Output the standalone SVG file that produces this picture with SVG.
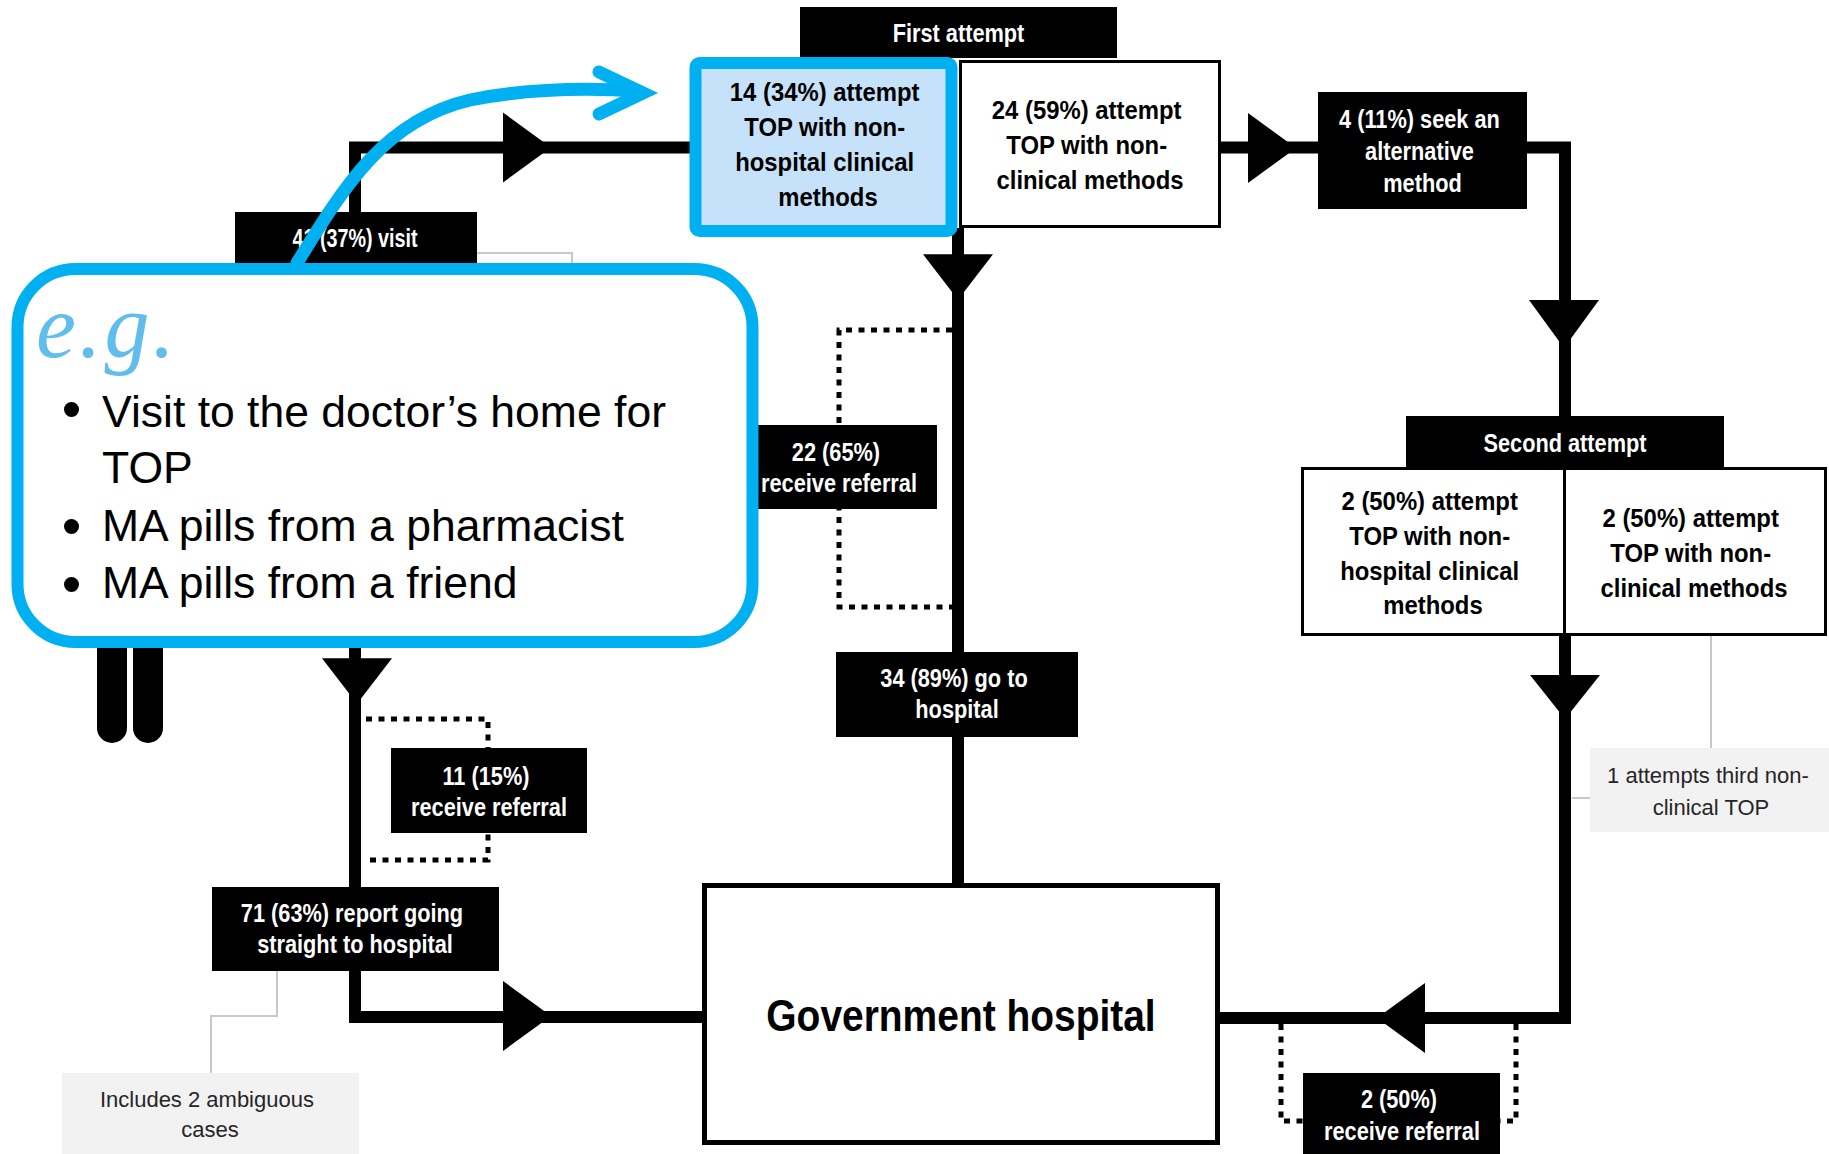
<svg xmlns="http://www.w3.org/2000/svg" xmlns:xlink="http://www.w3.org/1999/xlink" width="1829" height="1154" viewBox="0 0 1829 1154">
  <style>
    .flow { fill: none; stroke: #000; stroke-width: 12; stroke-linejoin: miter; stroke-linecap: butt; }
    .dots { fill: none; stroke: #000; stroke-width: 5; stroke-dasharray: 6 6.5; }
    .thin { fill: none; stroke: #c8c8c8; stroke-width: 2; }
    .head { fill: #000; }
    .blk { fill: #000; }
    .box { fill: #fff; stroke: #000; stroke-width: 3; }
    .note { fill: #f2f2f2; }
    .lbl { font-family: "Liberation Sans", Arial, sans-serif; font-weight: bold; font-size: 25px; fill: #fff; text-anchor: middle; }
    .txt { font-family: "Liberation Sans", Arial, sans-serif; font-weight: bold; font-size: 25px; fill: #000; text-anchor: middle; }
    .ntxt { font-family: "Liberation Sans", Arial, sans-serif; font-size: 22px; fill: #262626; text-anchor: middle; }
    .big { font-family: "Liberation Sans", Arial, sans-serif; font-weight: bold; font-size: 44px; fill: #000; text-anchor: middle; }
    .bul { font-family: "Liberation Sans", Arial, sans-serif; font-size: 44.5px; fill: #000; }
  </style>
  <defs>
    <!-- flow arrowhead, pointing right, centred on its mid point -->
    <path id="tri" d="M-24,-35 L24,0 L-24,35 Z"/>
  </defs>

  <rect width="1829" height="1154" fill="#fff"/>

  <!-- connectors -->
  <g id="connectors">
    <polyline class="flow" points="355,215 355,147.5 692,147.5"/>
    <line class="flow" x1="958" y1="228" x2="958" y2="886"/>
    <line class="flow" x1="1221" y1="147.5" x2="1320" y2="147.5"/>
    <polyline class="flow" points="1525,147.5 1565,147.5 1565,418"/>
    <polyline class="flow" points="1565,633 1565,1018 1218,1018"/>
    <polyline class="flow" points="355,640 355,1017 704,1017"/>

    <use href="#tri" class="head" transform="translate(527 147.5)"/>
    <use href="#tri" class="head" transform="translate(958 277) rotate(90) scale(0.95 1)"/>
    <use href="#tri" class="head" transform="translate(1272 148)"/>
    <use href="#tri" class="head" transform="translate(1564 324) rotate(90)"/>
    <use href="#tri" class="head" transform="translate(1565 697) rotate(90) scale(0.92 1)"/>
    <use href="#tri" class="head" transform="translate(1401 1018) rotate(180)"/>
    <use href="#tri" class="head" transform="translate(357 681) rotate(90) scale(0.95 1)"/>
    <use href="#tri" class="head" transform="translate(527 1016)"/>

    <!-- referral brackets -->
    <polyline class="dots" points="952,330 839,330 839,607 952,607"/>
    <polyline class="dots" points="366,719 488,719 488,860 366,860"/>
    <polyline class="dots" points="1281,1024 1281,1121 1303,1121"/>
    <polyline class="dots" points="1516,1024 1516,1121 1500,1121"/>

    <!-- note leaders -->
    <polyline class="thin" points="477,253 572,253 572,280"/>
    <line class="thin" x1="1711" y1="636" x2="1711" y2="748"/>
    <line class="thin" x1="1572" y1="798" x2="1590" y2="798"/>
    <polyline class="thin" points="277,971 277,1016 211,1016 211,1073"/>
  </g>

  <!-- stage headers -->
  <g id="first-attempt">
    <rect class="blk" x="800" y="7" width="317" height="51"/>
    <text class="lbl" transform="translate(958.5 0) scale(0.87 1)"><tspan x="0" y="42">First attempt</tspan></text>
  </g>
  <g id="second-attempt">
    <rect class="blk" x="1406" y="416" width="318" height="51"/>
    <text class="lbl" transform="translate(1565 0) scale(0.87 1)"><tspan x="0" y="452">Second attempt</tspan></text>
  </g>

  <g id="visit-providers">
    <rect class="blk" x="235" y="212" width="242" height="90"/>
    <text class="lbl" transform="translate(355 0) scale(0.79 1)"><tspan x="0" y="247">41 (37%) visit</tspan></text>
  </g>

  <g id="nonhospital-clinical-1">
    <rect x="695.5" y="63" width="256" height="168" rx="4" fill="#c6e2fa" stroke="#00b0f0" stroke-width="12"/>
    <text class="txt" transform="translate(828 0) scale(0.955 1)">
      <tspan x="0" y="101">14 (34%) attempt</tspan>
      <tspan x="0" y="136">TOP with non-</tspan>
      <tspan x="0" y="171">hospital clinical</tspan>
      <tspan x="0" y="206">methods</tspan>
    </text>
  </g>

  <g id="nonclinical-1">
    <rect class="box" x="960.5" y="61.5" width="259" height="165"/>
    <text class="txt" transform="translate(1090 0) scale(0.955 1)">
      <tspan x="0" y="119">24 (59%) attempt</tspan>
      <tspan x="0" y="154">TOP with non-</tspan>
      <tspan x="0" y="189">clinical methods</tspan>
    </text>
  </g>

  <g id="alternative-method">
    <rect class="blk" x="1318" y="92" width="209" height="117"/>
    <text class="lbl" transform="translate(1422.5 0) scale(0.87 1)">
      <tspan x="0" y="128">4 (11%) seek an</tspan>
      <tspan x="0" y="160">alternative</tspan>
      <tspan x="0" y="192">method</tspan>
    </text>
  </g>

  <g id="nonhospital-clinical-2">
    <rect class="box" x="1302.5" y="468.5" width="262" height="166"/>
    <text class="txt" transform="translate(1433 0) scale(0.955 1)">
      <tspan x="0" y="510">2 (50%) attempt</tspan>
      <tspan x="0" y="545">TOP with non-</tspan>
      <tspan x="0" y="580">hospital clinical</tspan>
      <tspan x="0" y="614">methods</tspan>
    </text>
  </g>

  <g id="nonclinical-2">
    <rect class="box" x="1564.5" y="468.5" width="261" height="166"/>
    <text class="txt" transform="translate(1694 0) scale(0.955 1)">
      <tspan x="0" y="527">2 (50%) attempt</tspan>
      <tspan x="0" y="562">TOP with non-</tspan>
      <tspan x="0" y="597">clinical methods</tspan>
    </text>
  </g>

  <g id="third-attempt-note">
    <rect class="note" x="1590" y="748" width="239" height="84"/>
    <text class="ntxt">
      <tspan x="1711" y="783">1 attempts third non-</tspan>
      <tspan x="1711" y="815">clinical TOP</tspan>
    </text>
  </g>

  <g id="referral-22">
    <rect class="blk" x="742" y="425" width="195" height="84"/>
    <text class="lbl" transform="translate(839 0) scale(0.87 1)">
      <tspan x="0" y="461">22 (65%)</tspan>
      <tspan x="0" y="492">receive referral</tspan>
    </text>
  </g>

  <g id="go-to-hospital">
    <rect class="blk" x="836" y="652" width="242" height="85"/>
    <text class="lbl" transform="translate(957 0) scale(0.87 1)">
      <tspan x="0" y="687">34 (89%) go to</tspan>
      <tspan x="0" y="718">hospital</tspan>
    </text>
  </g>

  <g id="government-hospital">
    <rect x="704.5" y="885.5" width="513" height="257" fill="#fff" stroke="#000" stroke-width="5"/>
    <text class="big" transform="translate(961 0) scale(0.885 1)"><tspan x="0" y="1031">Government hospital</tspan></text>
  </g>

  <g id="referral-2">
    <rect class="blk" x="1303" y="1073" width="197" height="90"/>
    <text class="lbl" transform="translate(1402 0) scale(0.87 1)">
      <tspan x="0" y="1108">2 (50%)</tspan>
      <tspan x="0" y="1140">receive referral</tspan>
    </text>
  </g>

  <g id="referral-11">
    <rect class="blk" x="391" y="748" width="196" height="85"/>
    <text class="lbl" transform="translate(489 0) scale(0.87 1)">
      <tspan x="0" y="785">11 (15%)</tspan>
      <tspan x="0" y="816">receive referral</tspan>
    </text>
  </g>

  <g id="straight-to-hospital">
    <rect class="blk" x="212" y="887" width="287" height="84"/>
    <text class="lbl" transform="translate(355 0) scale(0.87 1)">
      <tspan x="0" y="922">71 (63%) report going</tspan>
      <tspan x="0" y="953">straight to hospital</tspan>
    </text>
  </g>

  <g id="ambiguous-note">
    <rect class="note" x="62" y="1073" width="297" height="81"/>
    <text class="ntxt">
      <tspan x="210" y="1107">Includes 2 ambiguous</tspan>
      <tspan x="210" y="1137">cases</tspan>
    </text>
  </g>

  <!-- figure legs below the callout -->
  <g id="figure">
    <path class="blk" d="M97,630 H127 V728 A15,15 0 0 1 97,728 Z"/>
    <path class="blk" d="M133,630 H163 V728 A15,15 0 0 1 133,728 Z"/>
  </g>

  <!-- examples callout -->
  <g id="examples-callout">
    <rect x="17.5" y="269" width="735" height="373" rx="58" fill="#fff" stroke="#00b0f0" stroke-width="12"/>
    <text x="36" y="357" font-family="'Liberation Serif', serif" font-style="italic" font-size="90" letter-spacing="3" fill="#4fb6ea" fill-opacity="0.9">e.g.</text>
    <circle cx="71.5" cy="409.5" r="7.5"/>
    <circle cx="71.5" cy="526.5" r="7.5"/>
    <circle cx="71.5" cy="584.5" r="7.5"/>
    <text class="bul">
      <tspan x="102" y="427">Visit to the doctor’s home for</tspan>
      <tspan x="102" y="483">TOP</tspan>
      <tspan x="102" y="541">MA pills from a pharmacist</tspan>
      <tspan x="102" y="598">MA pills from a friend</tspan>
    </text>
  </g>

  <!-- pointer from callout to the highlighted box -->
  <g id="callout-pointer" fill="none" stroke="#00b0f0" stroke-width="13" stroke-linecap="round">
    <path d="M297,263 C345,185 385,120 470,100 C530,88 590,88 638,91"/>
    <polyline points="599,72 643,93 599,114" stroke-linejoin="miter"/>
  </g>
</svg>
